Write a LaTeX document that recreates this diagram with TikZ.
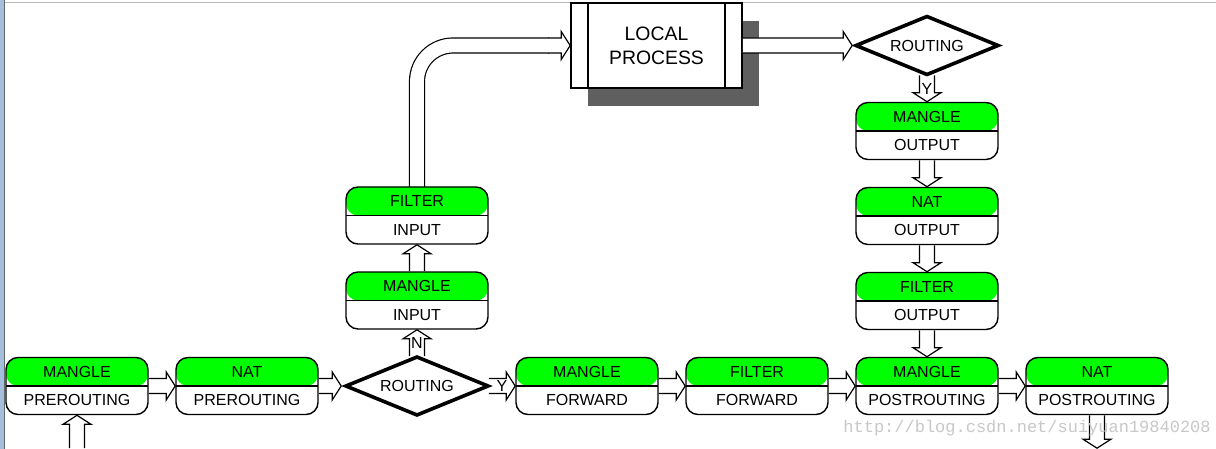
\documentclass[tikz,border=0pt]{standalone}
\usepackage{fontspec}
\setmainfont{Liberation Sans}
\newfontfamily\wmfont{Liberation Mono}
\usetikzlibrary{positioning, shapes.geometric, calc, shadows, backgrounds}
\definecolor{tblGreen}{HTML}{00FF00}
\definecolor{shadowGray}{HTML}{5F5F5F}
\definecolor{winBlue}{HTML}{A3BFDD}
\definecolor{winEdge}{HTML}{626A64}
\definecolor{winTop}{HTML}{B9B9B9}
\definecolor{markGray}{HTML}{C8C8C8}
\tikzset{
  chainbox/.style={rectangle, rounded corners=6pt, draw, line width=0.7pt, fill=white,
                   minimum width=71pt, minimum height=28.5pt, inner sep=0pt, outer sep=0pt,
                   align=center, font=\fontsize{8pt}{14.25pt}\selectfont,
                   path picture={
                     \fill[tblGreen] (path picture bounding box.north west) rectangle (path picture bounding box.east);
                     \draw[line width=0.7pt] (path picture bounding box.west) -- (path picture bounding box.east);}},
  decision/.style={diamond, aspect=2.45, draw, line width=1.8pt, fill=white, inner sep=0pt,
                   outer sep=0pt, minimum width=71pt, minimum height=29pt,
                   font=\fontsize{8pt}{10pt}\selectfont},
  procbox/.style={rectangle, draw, line width=0.7pt, fill=white, inner sep=0pt, outer sep=0pt,
                  align=center, minimum width=85.5pt, minimum height=42.5pt,
                  font=\fontsize{9.7pt}{12pt}\selectfont,
                  drop shadow={opacity=1, fill=shadowGray, shadow xshift=8.5pt, shadow yshift=-9pt},
                  path picture={
                    \draw[line width=0.7pt] ([xshift=8.5pt]path picture bounding box.north west) -- ([xshift=8.5pt]path picture bounding box.south west);
                    \draw[line width=0.7pt] ([xshift=-8.5pt]path picture bounding box.north east) -- ([xshift=-8.5pt]path picture bounding box.south east);}},
  pipe/.style={draw, line width=0.6pt, fill=white, line join=miter},
  pipebody/.style={draw, line width=0.6pt, double, double distance=6.9pt},
  yesno/.style={font=\fontsize{8pt}{10pt}\selectfont, inner sep=0pt},
}
% hollow arrow from #1 to #2
\newcommand{\hollowarrow}[2]{%
  \coordinate (ha-s) at ($(#1)!0.4pt!(#2)$);
  \coordinate (ha-t) at ($(#2)!0.4pt!(#1)$);
  \coordinate (ha-u) at ($(ha-t)!4.5pt!(ha-s)$);
  \path[pipe] ($(ha-s)!3.75pt!90:(ha-t)$) -- ($(ha-u)!3.75pt!-90:(ha-s)$)
    -- ($(ha-u)!7pt!-90:(ha-s)$) -- (ha-t) -- ($(ha-u)!7pt!90:(ha-s)$)
    -- ($(ha-u)!3.75pt!90:(ha-s)$) -- ($(ha-s)!3.75pt!-90:(ha-t)$);}

\begin{document}
\begin{tikzpicture}[x=0.5pt, y=-0.5pt, node distance=14pt]
  \useasboundingbox (0,0) rectangle (1216,449);

  % main chain
  \node[chainbox] (mpre) at (77,386) {MANGLE\\PREROUTING};
  \node[chainbox, right=of mpre] (npre) {NAT\\PREROUTING};
  \node[decision, right=of npre] (rt1) {ROUTING};
  \node[chainbox, right=of rt1] (mfwd) {MANGLE\\FORWARD};
  \node[chainbox, right=of mfwd] (ffwd) {FILTER\\FORWARD};
  \node[chainbox, right=of ffwd] (mpost) {MANGLE\\POSTROUTING};
  \node[chainbox, right=of mpost] (npost) {NAT\\POSTROUTING};

  % input side
  \node[chainbox, above=of rt1] (min) {MANGLE\\INPUT};
  \node[chainbox, above=of min] (fin) {FILTER\\INPUT};

  % output side
  \node[chainbox, above=of mpost] (fout) {FILTER\\OUTPUT};
  \node[chainbox, above=of fout] (nout) {NAT\\OUTPUT};
  \node[chainbox, above=of nout] (mout) {MANGLE\\OUTPUT};
  \node[decision, above=of mout] (rt2) {ROUTING};
  \node[procbox, left=57pt of rt2] (lp) {LOCAL\\PROCESS};

  \coordinate (inflow) at (mpre.south |- 0,449);
  \coordinate (outflow) at (npost.south |- 0,449);
  \coordinate (lpin) at ($(lp.west)+(-12pt,0)$);
  \coordinate (lpbend) at ($(lp.west)+(-11pt,0)$);

  \begin{scope}[on background layer]
    \fill[white] (0,0) rectangle (1216,449);
    \fill[winTop] (4,2) rectangle (1216,3.5);
    \fill[winBlue] (0,0) rectangle (4,449);
    \fill[winEdge] (4,0) rectangle (5.3,449);

    \hollowarrow{inflow}{mpre.south}
    \hollowarrow{mpre.east}{npre.west}
    \hollowarrow{npre.east}{[xshift=-2pt]rt1.west}
    \hollowarrow{rt1.east}{mfwd.west}
    \hollowarrow{mfwd.east}{ffwd.west}
    \hollowarrow{ffwd.east}{mpost.west}
    \hollowarrow{mpost.east}{npost.west}
    \hollowarrow{npost.south}{outflow}
    \hollowarrow{rt1.north}{min.south}
    \hollowarrow{min.north}{fin.south}
    \draw[pipebody, rounded corners=18pt] (fin.north) |- (lpbend);
    \hollowarrow{lpin}{lp.west}
    \hollowarrow{rt2.south}{mout.north}
    \hollowarrow{mout.south}{nout.north}
    \hollowarrow{nout.south}{fout.north}
    \hollowarrow{fout.south}{mpost.north}
  \end{scope}

  \hollowarrow{lp.east}{[xshift=-1.5pt]rt2.west}

  \node[yesno] (yes1) at ($(rt1.east)!0.5!(mfwd.west)$) {Y};
  \node[yesno] (no1) at ($(rt1.north)!0.5!(min.south)$) {N};
  \node[yesno] (yes2) at ($(rt2.south)!0.5!(mout.north)$) {Y};

  \node[anchor=west, inner sep=0pt, text=markGray, font=\wmfont\fontsize{8.5pt}{10pt}\selectfont]
    (mark) at (843,428) {http://blog.csdn.net/suiyuan19840208};
\end{tikzpicture}
\end{document}
